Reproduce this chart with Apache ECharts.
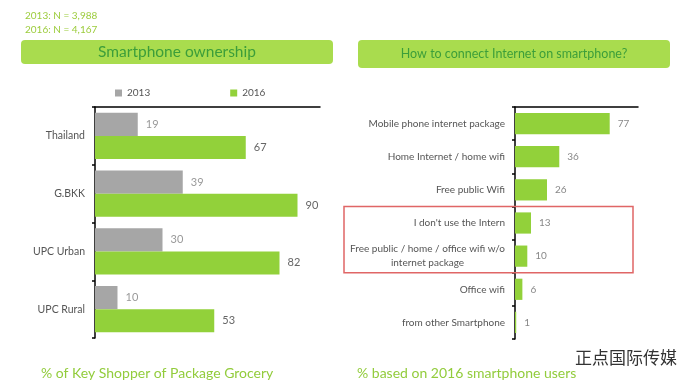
<!DOCTYPE html>
<html><head><meta charset="utf-8">
<script src="https://cdn.jsdelivr.net/npm/echarts@6/dist/echarts.min.js"></script>
<style>html,body{margin:0;padding:0;background:#fff}#c{width:678px;height:386px}</style>
</head><body><div id="c"></div>
<script>
const leftCategories = ['Thailand', 'G.BKK', 'UPC Urban', 'UPC Rural'];
const values2013 = [19, 39, 30, 10];
const values2016 = [67, 90, 82, 53];
const rightCategories = ['Mobile phone internet package', 'Home Internet / home wifi', 'Free public Wifi', "I don't use the Intern", 'Free public / home / office wifi w/o\ninternet package', 'Office wifi', 'from other Smartphone'];
const rightValues = [77, 36, 26, 13, 10, 6, 1];
const sampleNotes = ['2013: N = 3,988', '2016: N = 4,167'];
const leftTitle = 'Smartphone ownership';
const rightTitle = 'How to connect Internet on smartphone?';
const leftFooter = '% of Key Shopper of Package Grocery';
const rightFooter = '% based on 2016 smartphone users';

const FONT = 'Lato';
const GRAY = '#a6a6a6', GREEN = '#92d13a';
const chart = echarts.init(document.getElementById('c'));

const catAxis = (gi, data, extra) => Object.assign({
  type: 'category', gridIndex: gi, data: data, inverse: true,
  axisLine: {lineStyle: {color: '#000', width: 1.5}},
  axisTick: {show: true, length: 3, lineStyle: {color: '#000', width: 1.5}},
  axisLabel: {color: '#555', fontSize: 10.5, fontFamily: FONT, margin: 10}
}, extra || {});
const valAxis = (gi) => ({
  type: 'value', gridIndex: gi, position: 'top', min: 0, max: 100,
  axisLine: {show: true, lineStyle: {color: '#000', width: 1.5}},
  axisTick: {show: false}, axisLabel: {show: false}, splitLine: {show: false}
});

chart.setOption({
  animation: false,
  textStyle: {fontFamily: FONT},
  title: [
    {text: sampleNotes.join('\n'), left: 20, top: 4, textStyle: {color: '#9ccc3c', fontSize: 10, fontWeight: 'normal', lineHeight: 14, fontFamily: FONT}},
    {text: leftFooter, left: 36, top: 361, textStyle: {color: '#92cc3c', fontSize: 14, fontWeight: 'normal', fontFamily: FONT}},
    {text: rightFooter, left: 352, top: 361, textStyle: {color: '#92cc3c', fontSize: 14, fontWeight: 'normal', fontFamily: FONT}},
    {text: '正点国际传媒', left: 570, top: 344, textStyle: {color: '#333', fontSize: 17, fontWeight: 'normal', fontFamily: 'Noto Sans CJK SC'}}
  ],
  legend: {
    left: 110, top: 83, itemWidth: 7, itemHeight: 7, itemGap: 80, icon: 'rect',
    data: ['2013', '2016'],
    textStyle: {color: '#555', fontSize: 10, fontFamily: FONT}
  },
  grid: [
    {left: 95, top: 107, width: 225, height: 231},
    {left: 515, top: 107, width: 123, height: 232}
  ],
  xAxis: [valAxis(0), valAxis(1)],
  yAxis: [
    catAxis(0, leftCategories),
    catAxis(1, rightCategories, {axisLabel: {color: '#555', fontSize: 10, fontFamily: FONT, margin: 10,
      formatter: v => v.indexOf('\n') >= 0 ? v.split('\n').map(s => '{c|' + s + '}').join('\n') : v,
      rich: {c: {align: 'center', color: '#555', fontSize: 10, fontFamily: FONT, lineHeight: 14}}}})
  ],
  series: [
    {name: '2013', type: 'bar', xAxisIndex: 0, yAxisIndex: 0, data: values2013, itemStyle: {color: GRAY},
      barGap: '0%', barCategoryGap: '20%',
      label: {show: true, position: 'right', distance: 8, color: '#999', fontSize: 11, fontFamily: FONT}},
    {name: '2016', type: 'bar', xAxisIndex: 0, yAxisIndex: 0, data: values2016, itemStyle: {color: GREEN},
      barGap: '0%', barCategoryGap: '20%',
      label: {show: true, position: 'right', distance: 8, color: '#666', fontSize: 11, fontFamily: FONT}},
    {name: 'connect', type: 'bar', xAxisIndex: 1, yAxisIndex: 1, data: rightValues, itemStyle: {color: GREEN},
      barCategoryGap: '36%',
      label: {show: true, position: 'right', distance: 8, color: '#888', fontSize: 10, fontFamily: FONT}}
  ]
});

// decorations: title boxes and highlight box (placed from axis scale)
const y3 = chart.convertToPixel({yAxisIndex: 1}, 3);
const y4 = chart.convertToPixel({yAxisIndex: 1}, 4);
const band = (y4 - y3);
chart.setOption({
  graphic: [
    {type: 'rect', shape: {x: 21, y: 40, width: 312, height: 24, r: 4}, style: {fill: '#a9dc4e'}, z: 1},
    {type: 'text', x: 177, y: 52, style: {text: leftTitle, fill: '#3c9e3a', font: '15.5px ' + FONT, align: 'center', verticalAlign: 'middle'}, z: 2},
    {type: 'rect', shape: {x: 358, y: 40, width: 312, height: 28, r: 4}, style: {fill: '#a9dc4e'}, z: 1},
    {type: 'text', x: 514, y: 54, style: {text: rightTitle, fill: '#3c9e3a', font: '12.5px ' + FONT, align: 'center', verticalAlign: 'middle'}, z: 2},
    {type: 'rect', shape: {x: 344, y: y3 - band / 2, width: 289, height: band * 2}, style: {fill: 'none', stroke: '#e06666', lineWidth: 1.5}, z: 5}
  ]
});
</script></body></html>
